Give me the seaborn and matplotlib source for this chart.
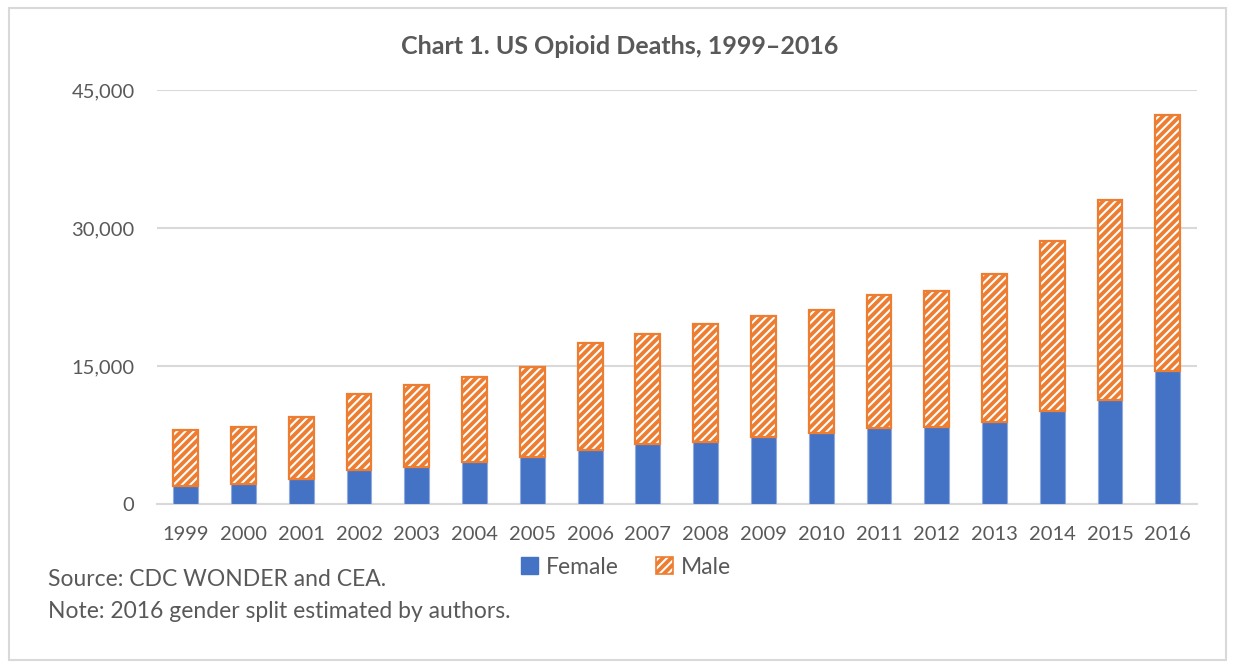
import matplotlib
matplotlib.use("Agg")
import matplotlib.pyplot as plt
from matplotlib.patches import Patch, Rectangle
from matplotlib.ticker import FuncFormatter
import pandas as pd
import seaborn as sns

# values
years = [str(y) for y in range(1999, 2017)]
total_deaths = [8050, 8410, 9500, 11920, 12940, 13760, 14920, 17550, 18520,
                19580, 20420, 21090, 22780, 23170, 25050, 28650, 33090, 42250]
female_deaths = [1960, 2180, 2690, 3700, 4060, 4570, 5080, 5880, 6530,
                 6780, 7260, 7700, 8240, 8350, 8960, 10160, 11320, 14510]
male_deaths = [t - f for t, f in zip(total_deaths, female_deaths)]
y_ticks = [0, 15000, 30000, 45000]

title = "Chart 1. US Opioid Deaths, 1999\u20132016"
source_note = "Source: CDC WONDER and CEA."
split_note = "Note: 2016 gender split estimated by authors."

BLUE = "#4472C4"
ORANGE = "#ED7D31"
TEXT = "#595959"
GRID = "#D9D9D9"

df = pd.DataFrame({"year": years, "female": female_deaths, "male": male_deaths})

sns.set_style("white")
plt.rcParams["font.family"] = ["Lato", "DejaVu Sans"]
plt.rcParams["hatch.linewidth"] = 1.5

fig = plt.figure(figsize=(12.35, 6.68), dpi=100)
ax = fig.add_axes([0.127, 0.2455, 0.842, 0.6195])

# female part
sns.barplot(data=df, x="year", y="female", color=BLUE, width=0.43,
            edgecolor="#8FAADC", linewidth=0.8, saturation=1, ax=ax, zorder=3)
# male part: white stripes on orange, then orange outline
sns.barplot(data=df, x="year", y="male", bottom=df["female"], color=ORANGE,
            width=0.43, edgecolor="white", hatch="////", linewidth=0,
            saturation=1, ax=ax, zorder=3)
sns.barplot(data=df, x="year", y="male", bottom=df["female"], color=ORANGE,
            width=0.43, facecolor="none", edgecolor=ORANGE, linewidth=1.6,
            saturation=1, ax=ax, zorder=4)

ax.set_ylim(0, 45000)
ax.set_xlim(-0.5, len(years) - 0.5)
ax.set_yticks(y_ticks)
ax.yaxis.set_major_formatter(FuncFormatter(lambda v, p: f"{int(v):,}"))
ax.grid(axis="y", color=GRID, linewidth=1.5, zorder=0)
ax.set_axisbelow(True)
for side in ["top", "right", "left"]:
    ax.spines[side].set_visible(False)
ax.spines["bottom"].set_color(GRID)
ax.spines["bottom"].set_linewidth(1.5)
ax.tick_params(axis="both", length=0, labelsize=14.5, labelcolor=TEXT)
ax.tick_params(axis="y", pad=16)
ax.tick_params(axis="x", pad=16)
ax.set_xlabel("")
ax.set_ylabel("")

fig.text(0.502, 0.930, title, ha="center", va="center", fontsize=18,
         fontweight="bold", color=TEXT)

handles = [Patch(facecolor=BLUE, edgecolor=BLUE),
           (Patch(facecolor=ORANGE, edgecolor="white", hatch="////", linewidth=0),
            Patch(facecolor="none", edgecolor=ORANGE, linewidth=1.2))]
fig.legend(handles, ["Female", "Male"], loc="center", bbox_to_anchor=(0.507, 0.151),
           ncol=2, frameon=False, fontsize=16.5, labelcolor=TEXT,
           handlelength=0.75, handleheight=0.75, handletextpad=0.35, columnspacing=1.6)

fig.text(0.039, 0.133, source_note, ha="left", va="center", fontsize=16.5, color=TEXT)
fig.text(0.039, 0.085, split_note, ha="left", va="center", fontsize=16.5, color=TEXT)

fig.patches.append(Rectangle((0.007, 0.012), 0.986, 0.976, transform=fig.transFigure,
                             fill=False, edgecolor=GRID, linewidth=1.5))

fig.savefig("out.png", dpi=100)
